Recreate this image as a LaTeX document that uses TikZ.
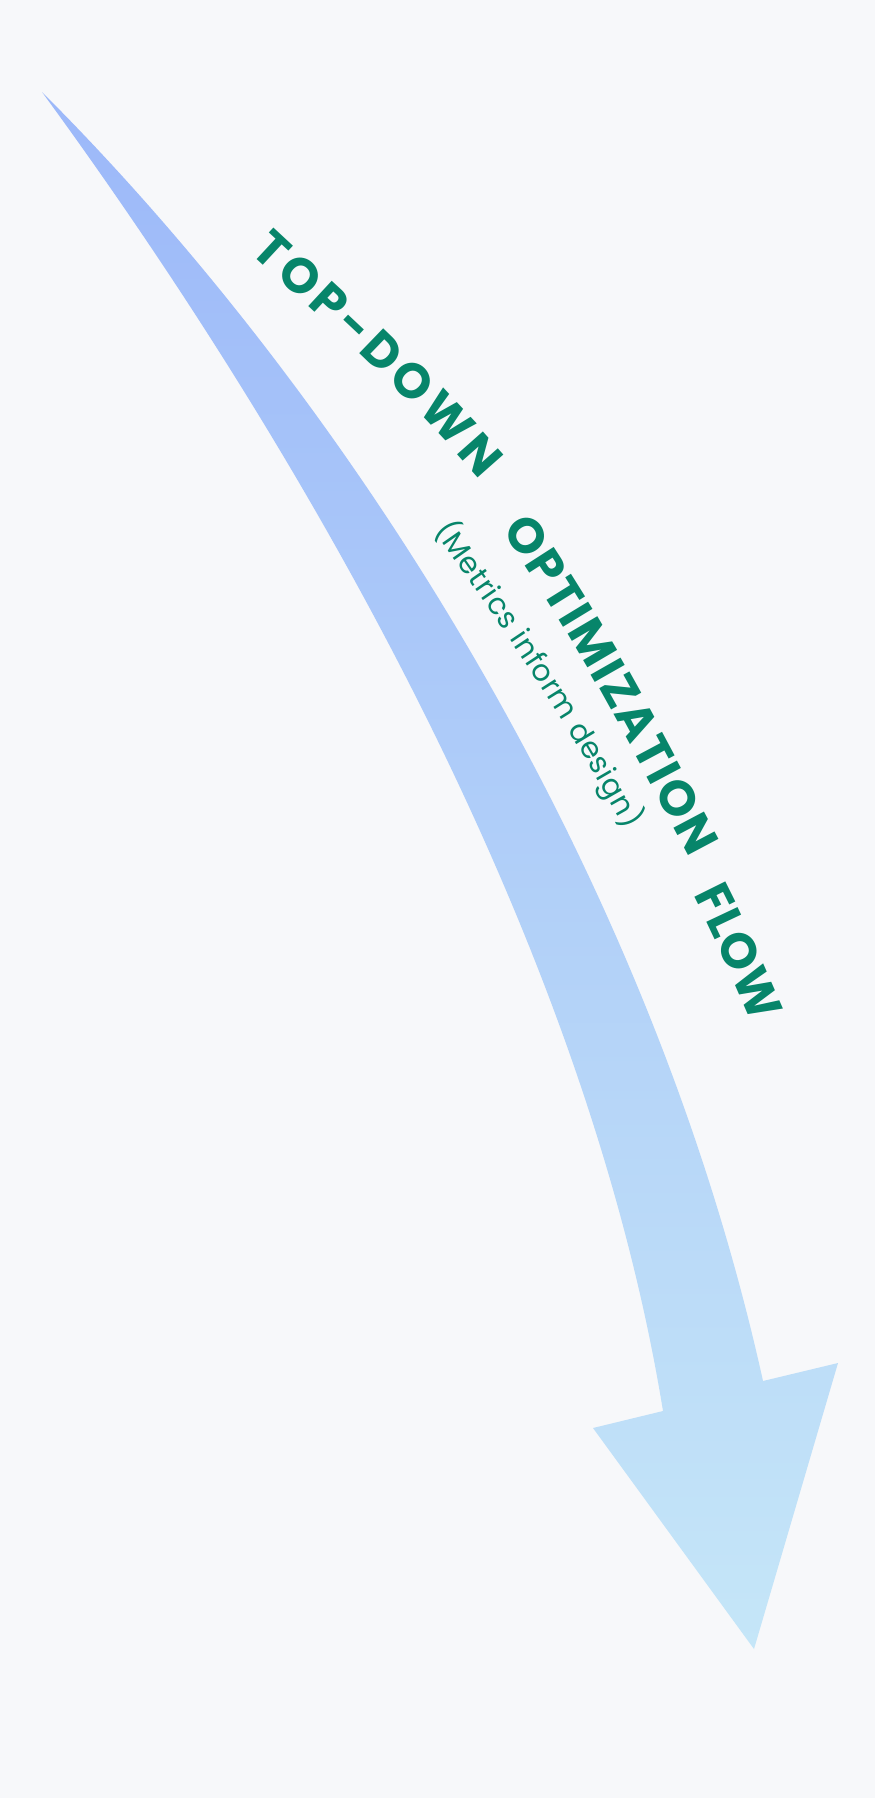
\documentclass[tikz,border=0pt]{standalone}
\usepackage{fontspec}
\setmainfont{Poppins}
\usepackage{xcolor}
\usetikzlibrary{decorations.text}
\definecolor{pagebg}{HTML}{F7F8FA}
\definecolor{arrowtop}{HTML}{9CB8F9}
\definecolor{arrowbottom}{HTML}{C5E6F8}
\definecolor{flowgreen}{HTML}{07856A}

\begin{document}
\begin{tikzpicture}[
	titlepath/.style={decorate, decoration={text along path, text align=fit to path, text color=flowgreen,
		text={|\bfseries\fontsize{14}{16}\selectfont|#1}}},
	notepath/.style={decorate, decoration={text along path, text align=fit to path, text color=flowgreen,
		text={|\fontsize{8.4}{10}\selectfont|#1}}}
	]
	\fill[pagebg] (0,0) rectangle (8.75,-17.98); % Page background
	
	% Draw the curved arrow (right edge, head, left edge)
	\shade[top color=arrowtop, bottom color=arrowbottom]
	(0.42,-0.92) .. controls (3.5,-4.0) and (6.5,-8.7) .. (7.63,-13.81) --
	(8.38,-13.63) --
	(7.54,-16.49) --
	(5.93,-14.28) --
	(6.63,-14.11) .. controls (5.8,-9.0) and (2.6,-3.9) .. (0.42,-0.92) -- cycle;
	
	% Draw the title along the arrow
	\path[titlepath={TOP-DOWN}] (2.50,-2.52) to[out=-43,in=131] (4.80,-4.80);
	\path[titlepath={OPTIMIZATION}] (5.01,-5.30) to[out=-56,in=118] (6.90,-8.58);
	\path[titlepath={FLOW}] (6.93,-8.95) to[out=-63,in=114] (7.52,-10.24);
	
	% Optionally add the note under the title
	\path[notepath={(Metrics inform design)}] (4.34,-5.30) to[out=-55,in=119] (6.26,-8.30);
	
\end{tikzpicture}
\end{document}
